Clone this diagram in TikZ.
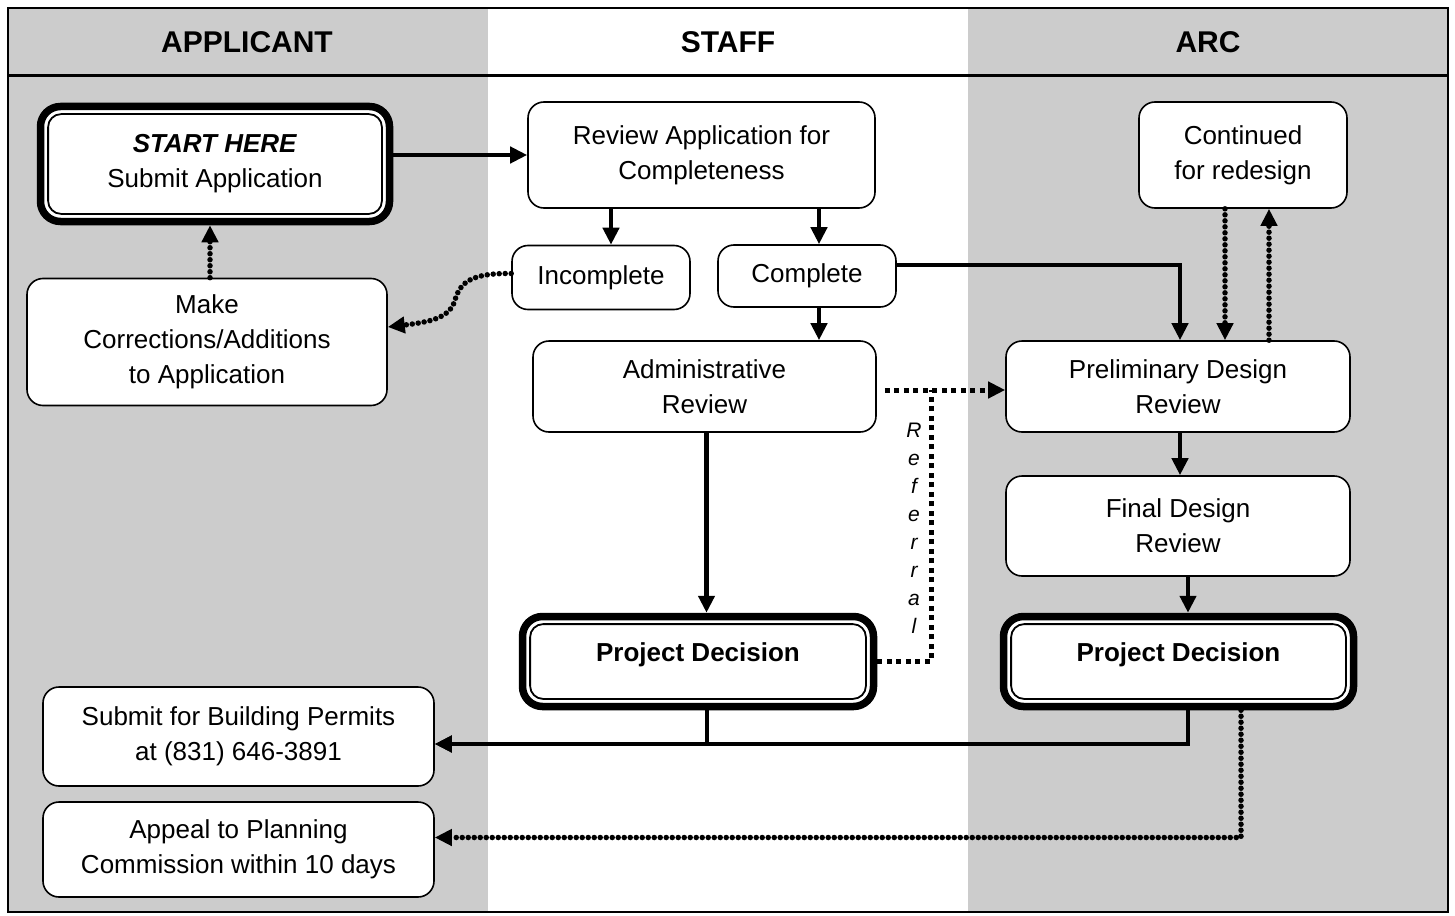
\documentclass[tikz,border=0pt]{standalone}
\usepackage{fontspec}
\setmainfont{Liberation Sans}
\usetikzlibrary{arrows.meta,calc}
\definecolor{lane}{HTML}{CCCCCC}
\begin{document}
\begin{tikzpicture}[x=1pt,y=-1pt,
  box/.style={draw, line width=1.6pt, rounded corners=16pt, fill=white, align=center,
    font=\fontsize{26}{35}\selectfont, inner sep=0pt},
  dbox/.style={box, line width=7.5pt, rounded corners=20pt,
    path picture={\draw[line width=1.8pt, rounded corners=13pt]
      ([shift={(7.6pt,7.6pt)}]path picture bounding box.south west) rectangle
      ([shift={(-7.6pt,-7.6pt)}]path picture bounding box.north east);}},
  head/.style={font=\fontsize{30}{36}\selectfont\bfseries},
  conn/.style={line width=4.5pt, -{Triangle[length=17pt,width=16pt]}},
  dconn/.style={line width=5.5pt, line cap=round, dash pattern=on 0pt off 6pt,
    -{Triangle[length=17pt,width=16pt]}},
  rdot/.style={line width=5pt, dash pattern=on 5pt off 4.5pt},
  rconn/.style={rdot, -{Triangle[length=17pt,width=16pt]}}
]
\useasboundingbox (0,0) rectangle (1455,915);
% lanes
\fill[lane] (8,8) rectangle (488,912);
\fill[lane] (968,8) rectangle (1448,912);
\draw[line width=2pt] (8,8) rectangle (1448,912);
\draw[line width=3pt] (8,76) -- (1448,76);
\node[head] (hA) at (247,42) {APPLICANT};
\node[head] (hS) at (728,42) {STAFF};
\node[head] (hR) at (1208,42) {ARC};

% nodes
\node[dbox, minimum width=349pt, minimum height=115pt] (start) at (215,164)
  {\textbf{\textit{START HERE}}\\Submit Application};
\node[box, minimum width=347pt, minimum height=106pt] (review) at (701.5,155)
  {Review Application for\\Completeness};
\node[box, minimum width=208pt, minimum height=106pt] (cont) at (1243,155)
  {Continued\\for redesign};
\node[box, minimum width=178pt, minimum height=64pt] (incomp) at (601,277.5) {Incomplete};
\node[box, minimum width=178pt, minimum height=62pt] (comp) at (807,276) {Complete};
\node[box, minimum width=360pt, minimum height=127pt] (corr) at (207,342)
  {Make\\Corrections/Additions\\to Application};
\node[box, minimum width=343pt, minimum height=91pt] (admin) at (704.5,386.5)
  {Administrative\\Review};
\node[box, minimum width=344pt, minimum height=91pt] (prelim) at (1178,386.5)
  {Preliminary Design\\Review};
\node[box, minimum width=344pt, minimum height=100pt] (final) at (1178,526)
  {Final Design\\Review};
\node[dbox, minimum width=351pt, minimum height=90pt, text height=9pt, text depth=9pt] (pds) at (698,661.5)
  {\textbf{Project Decision}};
\node[dbox, minimum width=350pt, minimum height=90pt, text height=9pt, text depth=9pt] (pda) at (1178.5,661.5)
  {\textbf{Project Decision}};
\node[box, minimum width=391pt, minimum height=99pt] (build) at (238.5,736.5)
  {Submit for Building Permits\\at (831) 646-3891};
\node[box, minimum width=391pt, minimum height=95pt] (appeal) at (238.5,849.5)
  {Appeal to Planning\\Commission within 10 days};

% connectors
\draw[conn] (start.east |- review.west) -- (review.west);
\draw[conn] ([xshift=10pt]review.south -| incomp.north) -- ([xshift=10pt]incomp.north);
\draw[conn] ([xshift=12pt]review.south -| comp.north) -- ([xshift=12pt]comp.north);
\draw[conn] ([yshift=11pt]comp.east) -| ([xshift=2pt]prelim.north);
\draw[dconn] ([xshift=-18pt]cont.south) -- ([xshift=-18pt]cont.south |- prelim.north);
\draw[dconn] ([xshift=26pt]cont.south |- prelim.north) -- ([xshift=26pt]cont.south);
\draw[dconn] ([yshift=4pt]incomp.west) .. controls (470,273) and (460,283) .. (455,300)
  .. controls (450,318) and (430,322) .. ([yshift=15pt]corr.east);
\draw[dconn] ([xshift=3pt]corr.north) -- ([xshift=3pt]corr.north |- start.south);
\draw[conn] ([xshift=12pt]comp.south) -- ([xshift=12pt]comp.south |- admin.north);
\draw[conn] ([xshift=2pt]admin.south) -- ([xshift=2pt]admin.south |- pds.north);
\coordinate (rj) at (931,390);
\draw[rconn] ([shift={(8pt,-3.5pt)}]admin.east) -- (rj -| prelim.west);
\draw[rdot] (pds.east) -| (rj);
\node[font=\fontsize{21}{28}\selectfont\itshape, align=center, inner sep=0pt] (referral) at (914,528)
  {R\\e\\f\\e\\r\\r\\a\\l};
\draw[conn] ([xshift=2pt]prelim.south) -- ([xshift=2pt]prelim.south |- final.north);
\draw[conn] ([xshift=10pt]final.south) -- ([xshift=10pt]final.south |- pda.north);
\draw[conn] ([xshift=9pt]pds.south) |- ([yshift=-7.5pt]build.east);
\draw[conn] ([xshift=9.5pt]pda.south) |- ([yshift=-7.5pt]build.east);
\draw[dconn] ([xshift=62.5pt]pda.south) |- ([yshift=12pt]appeal.east);
\end{tikzpicture}
\end{document}
